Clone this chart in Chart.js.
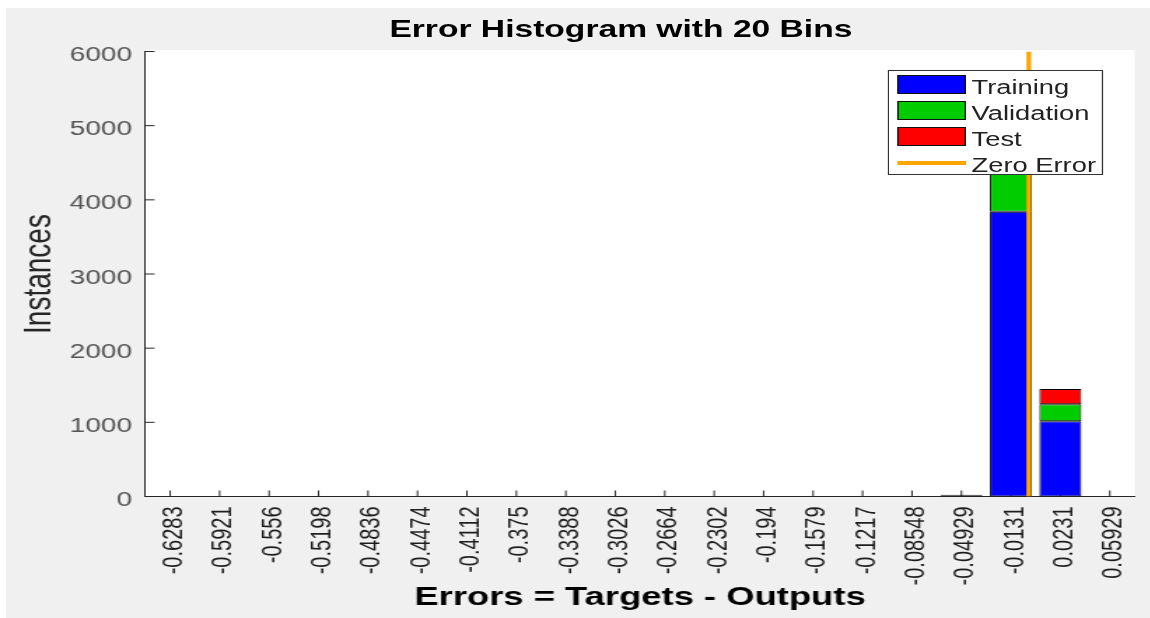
<!DOCTYPE html>
<html>
<head>
<meta charset="utf-8">
<title>Error Histogram with 20 Bins</title>
<script src="https://cdn.jsdelivr.net/npm/chart.js@4.4.1/dist/chart.umd.min.js"></script>
<style>
  html, body { margin: 0; padding: 0; background: #fff; }
  #page { position: relative; width: 1150px; height: 618px; overflow: hidden; font-family: 'Liberation Sans', Arial, sans-serif; }
  #figbg { position: absolute; left: 6px; top: 8px; right: 0; bottom: 0; background: #f0f0f0; }
  /* the whole figure is drawn narrow and stretched sideways, like the source picture */
  #stage { position: absolute; left: 0; top: 0; width: 822px; height: 618px; transform: scaleX(1.4); transform-origin: 0 0; }
  #chart { position: absolute; left: 0; top: 0; }
  #title { position: absolute; left: 0; top: 14px; width: 887px; text-align: center; font-weight: bold; font-size: 24px; line-height: 30px; color: #000; }
  #legend { position: absolute; left: 634px; top: 70px; width: 154px; height: 105px; background: #fff; border: 1px solid #333; box-sizing: border-box; }
  #legend .sw { position: absolute; left: 6px; width: 49px; height: 19px; border: 1px solid #111; box-sizing: border-box; }
  #legend .ln { position: absolute; left: 6px; width: 49px; height: 4px; }
  #legend .tx { position: absolute; left: 59px; font-size: 19.5px; line-height: 22px; color: #222; white-space: nowrap; }
</style>
</head>
<body>
<div id="page">
  <div id="figbg"></div>
  <div id="stage">
    <canvas id="chart" width="822" height="618"></canvas>
    <div id="title">Error Histogram with 20 Bins</div>
    <div id="legend"></div>
  </div>
</div>
<script>
// bin centres (as printed under the axis)
const binLabels = ['-0.6283', '-0.5921', '-0.556', '-0.5198', '-0.4836', '-0.4474', '-0.4112', '-0.375',
  '-0.3388', '-0.3026', '-0.2664', '-0.2302', '-0.194', '-0.1579', '-0.1217', '-0.08548', '-0.04929',
  '-0.0131', '0.0231', '0.05929'];

// instances per bin
const trainingCounts   = [null, null, null, null, null, null, null, null, null, null, null, null, null, null, null, null, 16, 3840, 1013, null];
const validationCounts = [null, null, null, null, null, null, null, null, null, null, null, null, null, null, null, null, 4, 823, 230, null];
const testCounts       = [null, null, null, null, null, null, null, null, null, null, null, null, null, null, null, null, 4, 823, 208, null];

const yTicks = [0, 1000, 2000, 3000, 4000, 5000, 6000];
const zeroError = 0;

const seriesNames = ['Training', 'Validation', 'Test', 'Zero Error'];
const seriesColors = ['#0000ff', '#00cc00', '#ff0000', '#ffa500'];

(function () {
  const axisColor = '#262626';

  // hidden linear axis lined up with the category bins, used for the zero line
  const first = parseFloat(binLabels[0]);
  const last = parseFloat(binLabels[binLabels.length - 1]);
  const binWidth = (last - first) / (binLabels.length - 1);

  // white plot box behind the bars
  const plotBackground = {
    id: 'plotBackground',
    beforeDraw(chart) {
      const a = chart.chartArea;
      const ctx = chart.ctx;
      ctx.save();
      ctx.fillStyle = '#fff';
      ctx.fillRect(a.left, a.top - 1.5, a.right - a.left, a.bottom - a.top + 1.5);
      ctx.restore();
    }
  };

  // MATLAB style tick marks pointing into the plot
  const innerTicks = {
    id: 'innerTicks',
    beforeDatasetsDraw(chart) {
      const ctx = chart.ctx;
      const x = chart.scales.x;
      const y = chart.scales.y;
      ctx.save();
      ctx.strokeStyle = axisColor;
      ctx.lineWidth = 1;
      ctx.beginPath();
      y.ticks.forEach((t, i) => {
        const py = y.getPixelForTick(i);
        ctx.moveTo(y.right, py);
        ctx.lineTo(y.right + 6.5, py);
      });
      x.ticks.forEach((t, i) => {
        const px = x.getPixelForTick(i);
        ctx.moveTo(px, x.top);
        ctx.lineTo(px, x.top - 6);
      });
      ctx.stroke();
      ctx.restore();
    }
  };

  function barSet(label, data, color) {
    return {
      label: label,
      data: data,
      backgroundColor: color,
      borderColor: '#000',
      borderWidth: 1,
      borderSkipped: false,
      grouped: false,
      barPercentage: 0.85,
      categoryPercentage: 1.0
    };
  }

  function buildLegend() {
    const box = document.getElementById('legend');
    const rows = [14.5, 40.5, 66.5, 92.5];
    seriesNames.forEach((name, i) => {
      const mark = document.createElement('div');
      if (i < 3) {
        mark.className = 'sw';
        mark.style.top = (rows[i] - 9.5 - 1) + 'px';
      } else {
        mark.className = 'ln';
        mark.style.top = (rows[i] - 2 - 1) + 'px';
      }
      mark.style.background = seriesColors[i];
      box.appendChild(mark);
      const txt = document.createElement('div');
      txt.className = 'tx';
      txt.style.top = (rows[i] - 11 + 1) + 'px';
      txt.textContent = name;
      box.appendChild(txt);
    });
  }

  function init() {
    Chart.defaults.font.family = "'Liberation Sans', Arial, sans-serif";

    new Chart(document.getElementById('chart'), {
      type: 'bar',
      data: {
        labels: binLabels,
        datasets: [
          {
            type: 'line',
            label: seriesNames[3],
            data: [{ x: zeroError, y: 0 }, { x: zeroError, y: yTicks[yTicks.length - 1] }],
            xAxisID: 'xZero',
            borderColor: seriesColors[3],
            borderWidth: 3.4,
            pointRadius: 0,
            order: -1
          },
          barSet(seriesNames[0], trainingCounts, seriesColors[0]),
          barSet(seriesNames[1], validationCounts, seriesColors[1]),
          barSet(seriesNames[2], testCounts, seriesColors[2])
        ]
      },
      options: {
        responsive: false,
        animation: false,
        devicePixelRatio: 1,
        layout: { padding: { left: 0, right: 11.6, top: 51.5, bottom: 0 } },
        plugins: {
          legend: { display: false },
          title: { display: false },
          tooltip: { enabled: false }
        },
        scales: {
          x: {
            stacked: true,
            offset: true,
            grid: { display: false, drawTicks: false },
            border: { display: true, color: axisColor, width: 1 },
            ticks: {
              autoSkip: false,
              maxRotation: 90,
              minRotation: 90,
              padding: 10,
              labelOffset: 3,
              color: '#1e1e1e',
              font: { size: 20 }
            },
            title: {
              display: true,
              text: 'Errors = Targets - Outputs',
              color: '#000',
              font: { size: 26, weight: 'bold' },
              padding: { top: 0, bottom: 5 }
            },
            afterFit(scale) {
              scale.height = 121.5;
              // keep the plot box where it is; labels may hang past the ends
              scale.paddingLeft = 0;
              scale.paddingRight = 0;
            }
          },
          xZero: {
            type: 'linear',
            display: false,
            offset: false,
            min: first - binWidth / 2,
            max: last + binWidth / 2
          },
          y: {
            stacked: true,
            min: yTicks[0],
            max: yTicks[yTicks.length - 1],
            grid: { display: false, drawTicks: false },
            border: { display: true, color: axisColor, width: 1 },
            afterBuildTicks(scale) { scale.ticks = yTicks.map(v => ({ value: v })); },
            ticks: {
              padding: 9.6,
              labelOffset: 4,
              color: '#555',
              font: { size: 20 },
              callback: (v) => String(v)
            },
            title: {
              display: true,
              text: 'Instances',
              color: axisColor,
              font: { size: 28 },
              padding: { top: 11, bottom: 0 }
            },
            afterFit(scale) {
              scale.width = 103.9;
              scale.paddingTop = 0;
              scale.paddingBottom = 0;
            }
          }
        }
      },
      plugins: [plotBackground, innerTicks]
    });

    buildLegend();
  }

  if (document.readyState === 'loading') {
    document.addEventListener('DOMContentLoaded', init);
  } else {
    init();
  }
})();
</script>
</body>
</html>
